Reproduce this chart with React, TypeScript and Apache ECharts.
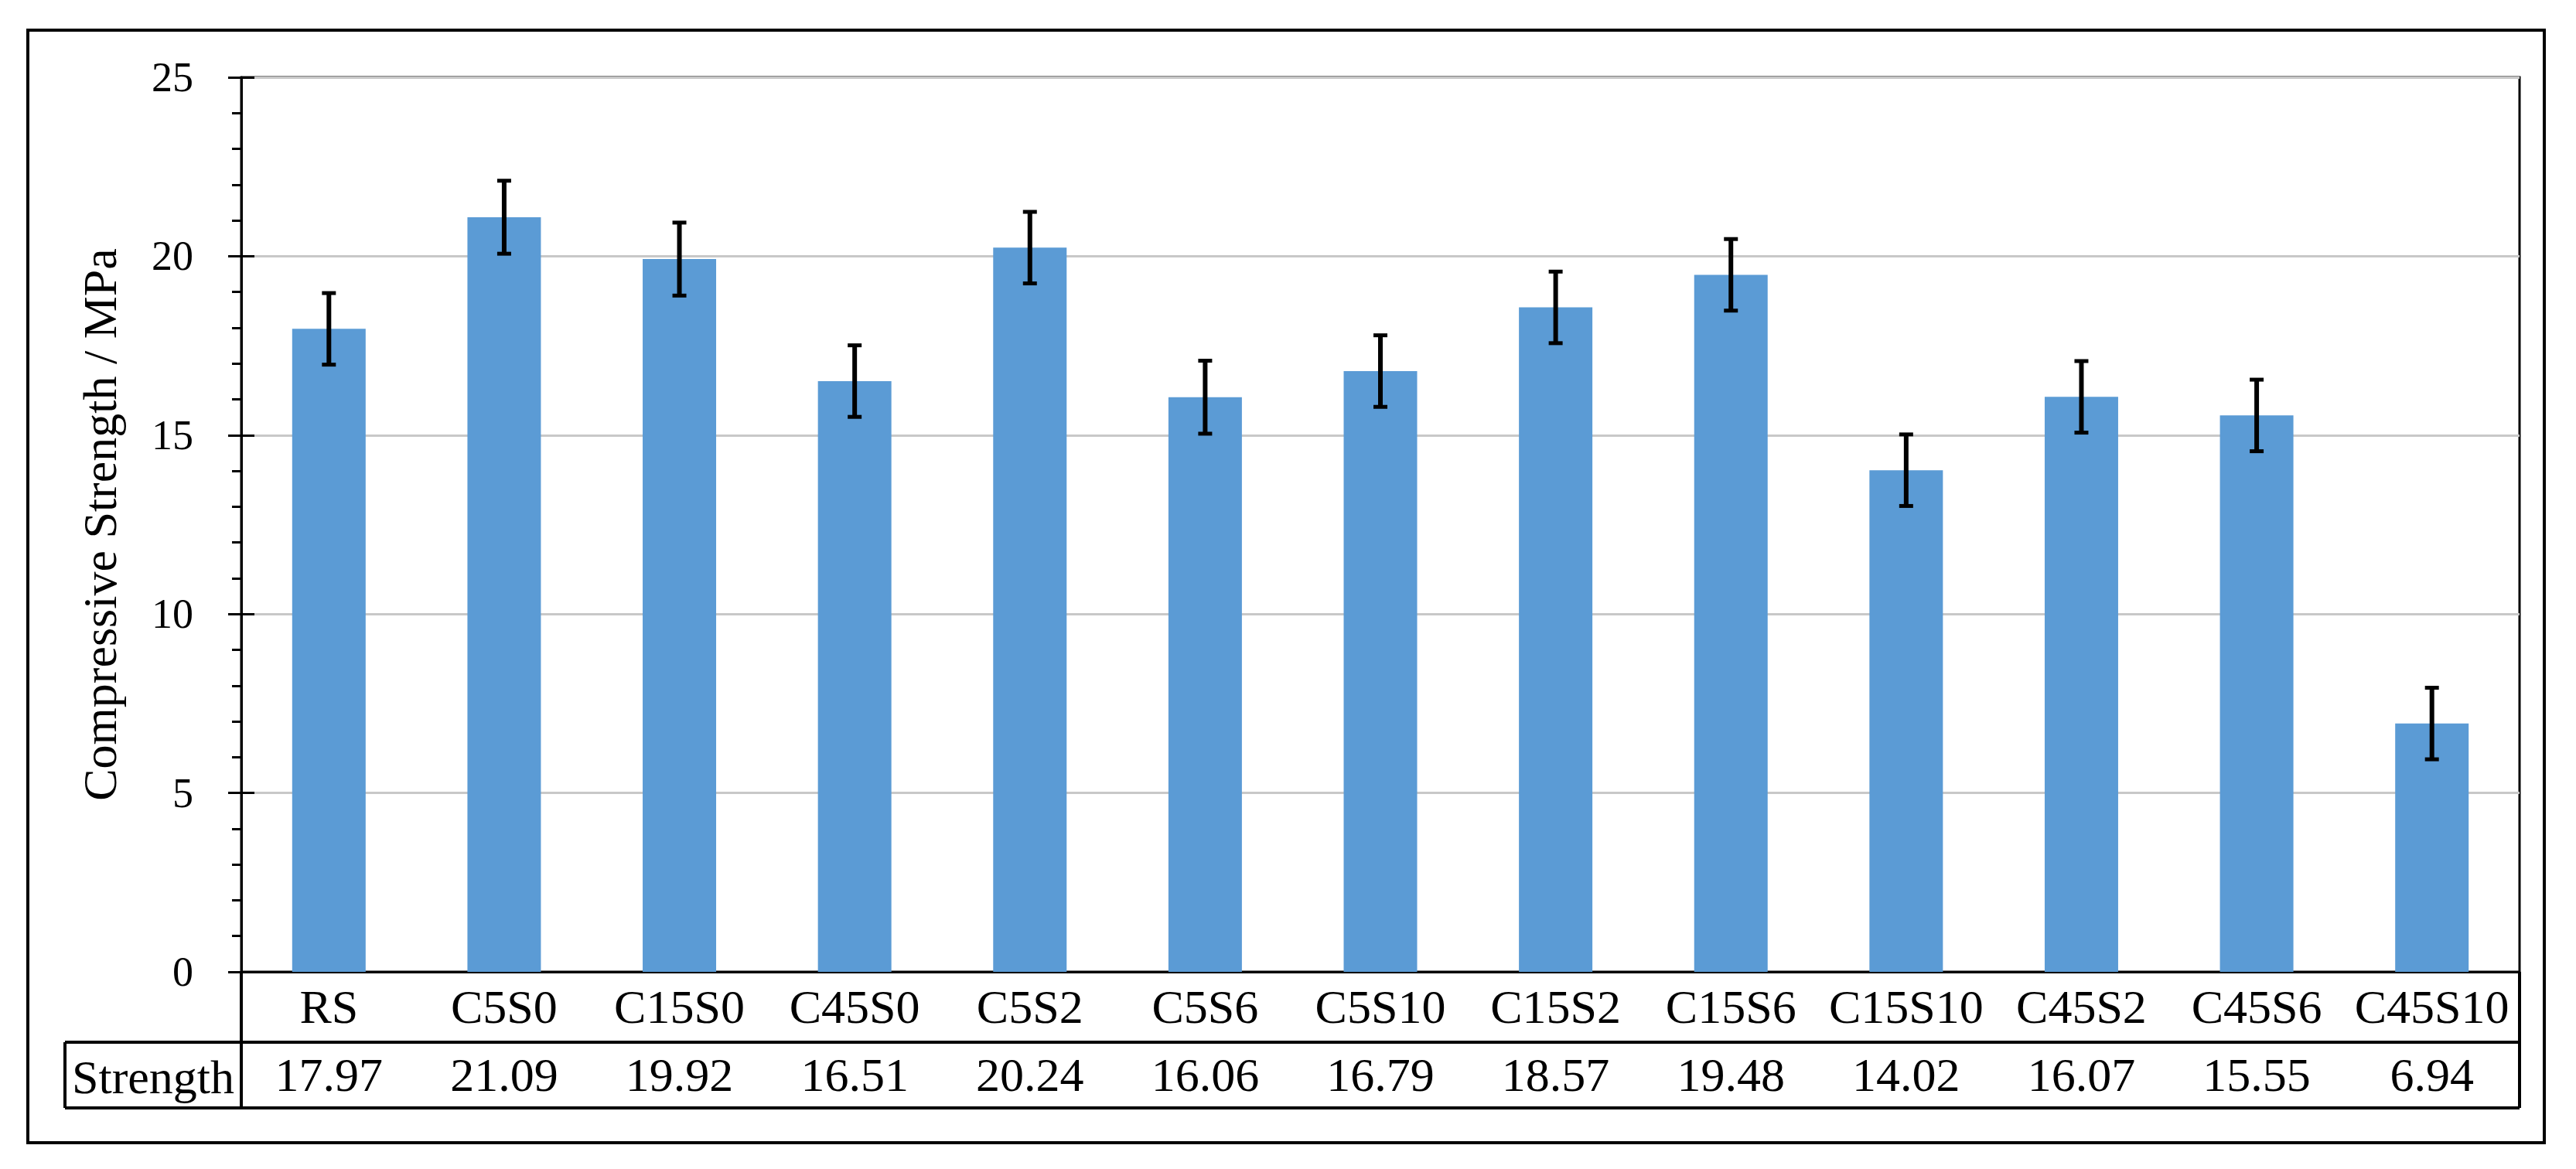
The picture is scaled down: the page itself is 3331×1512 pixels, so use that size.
import React, { useEffect, useRef } from "react";
import * as echarts from "echarts";

const categories = ["RS", "C5S0", "C15S0", "C45S0", "C5S2", "C5S6", "C5S10", "C15S2", "C15S6", "C15S10", "C45S2", "C45S6", "C45S10"];
const strength = [17.97, 21.09, 19.92, 16.51, 20.24, 16.06, 16.79, 18.57, 19.48, 14.02, 16.07, 15.55, 6.94];
const errors = [1.0, 1.02, 1.02, 1.0, 1.0, 1.02, 1.0, 1.0, 1.0, 1.0, 1.0, 1.0, 1.0];
const yMin = 0;
const yMax = 25;
const yStep = 5;
const tableHeader = "Strength";
const yTitle = "Compressive Strength / MPa";

const FONT = "Liberation Serif";

export default function App() {
  const ref = useRef<HTMLDivElement>(null);
  useEffect(() => {
    if (!ref.current) return;
    const chart = echarts.init(ref.current, null, { renderer: "svg" });
    const gridLeft = 312;
    const gridTop = 100;
    const gridW = 2946;
    const gridH = 1157;
    const gridRight = gridLeft + gridW;
    const gridBottom = gridTop + gridH;
    const tableTop = 1348;
    const tableBottom = 1433;
    const tableLeft = 84;
    const lineStyle = { stroke: "#000", lineWidth: 4 };

    const errData = strength.map((v, i) => [i, v - errors[i], v + errors[i]]);

    chart.setOption({
      animation: false,
      backgroundColor: "#fff",
      textStyle: { fontFamily: FONT },
      grid: {
        left: gridLeft,
        top: gridTop,
        width: gridW,
        height: gridH,
        show: true,
        borderColor: "#000",
        borderWidth: 3,
        backgroundColor: "transparent",
      },
      xAxis: [
        {
          type: "category",
          data: categories,
          position: "bottom",
          axisLine: { show: true, lineStyle: { color: "#000", width: 3 } },
          axisTick: { show: false },
          axisLabel: {
            color: "#000",
            fontFamily: FONT,
            fontSize: 62,
            lineHeight: 62,
            margin: 14,
            interval: 0,
          },
          splitLine: { show: false },
        },
        {
          type: "category",
          data: categories,
          position: "bottom",
          offset: 88,
          axisLine: { show: false },
          axisTick: { show: false },
          axisLabel: {
            color: "#000",
            fontFamily: FONT,
            fontSize: 62,
            lineHeight: 62,
            margin: 14,
            interval: 0,
            formatter: (_v: string, idx: number) => strength[idx].toFixed(2),
          },
          splitLine: { show: false },
        },
      ],
      yAxis: [
        {
          type: "value",
          min: yMin,
          max: yMax,
          interval: yStep,
          name: yTitle,
          nameLocation: "middle",
          nameRotate: 90,
          nameGap: 152,
          nameTextStyle: { color: "#000", fontFamily: FONT, fontSize: 62 },
          axisLine: { show: true, lineStyle: { color: "#000", width: 3 } },
          axisTick: { show: true, length: 17, lineStyle: { color: "#000", width: 3 } },
          minorTick: { show: true, splitNumber: 5, length: 12, lineStyle: { color: "#000", width: 3 } },
          axisLabel: { color: "#000", fontFamily: FONT, fontSize: 54, margin: 62 },
          splitLine: { show: true, lineStyle: { color: "#c8c8c8", width: 3 } },
        },
        {
          type: "value",
          min: yMin,
          max: yMax,
          interval: yStep,
          position: "left",
          axisLine: { show: false },
          axisTick: { show: true, inside: true, length: 17, lineStyle: { color: "#000", width: 3 } },
          axisLabel: { show: false },
          splitLine: { show: false },
        },
      ],
      series: [
        {
          type: "bar",
          data: strength,
          barWidth: 95,
          itemStyle: { color: "#5B9BD5" },
          z: 2,
        },
        {
          type: "custom",
          data: errData,
          z: 5,
          renderItem: (params: any, api: any) => {
            const idx = api.value(0);
            const lo = api.coord([idx, api.value(1)]);
            const hi = api.coord([idx, api.value(2)]);
            const x = lo[0];
            const hw = 9;
            const st = { stroke: "#000", lineWidth: 6 };
            const cap = { stroke: "#000", lineWidth: 5 };
            return {
              type: "group",
              children: [
                { type: "line", shape: { x1: x, y1: hi[1], x2: x, y2: lo[1] }, style: st },
                { type: "line", shape: { x1: x - hw, y1: hi[1], x2: x + hw, y2: hi[1] }, style: cap },
                { type: "line", shape: { x1: x - hw, y1: lo[1], x2: x + hw, y2: lo[1] }, style: cap },
              ],
            };
          },
        },
      ],
      graphic: [
        { type: "rect", shape: { x: 36, y: 39, width: 3254, height: 1439 }, style: { fill: "none", stroke: "#000", lineWidth: 4 }, silent: true },
        { type: "line", shape: { x1: tableLeft, y1: tableTop, x2: gridRight, y2: tableTop }, style: lineStyle },
        { type: "line", shape: { x1: tableLeft, y1: tableBottom, x2: gridRight, y2: tableBottom }, style: lineStyle },
        { type: "line", shape: { x1: tableLeft, y1: tableTop, x2: tableLeft, y2: tableBottom }, style: lineStyle },
        { type: "line", shape: { x1: gridLeft, y1: gridBottom, x2: gridLeft, y2: tableBottom }, style: lineStyle },
        { type: "line", shape: { x1: gridRight, y1: gridBottom, x2: gridRight, y2: tableBottom }, style: lineStyle },
        {
          type: "text",
          x: (tableLeft + gridLeft) / 2,
          y: (tableTop + tableBottom) / 2 + 2,
          style: {
            text: tableHeader,
            fill: "#000",
            fontFamily: FONT,
            fontSize: 62,
            textAlign: "center",
            textVerticalAlign: "middle",
          },
        },
      ],
    });
    return () => chart.dispose();
  }, []);
  return (
    <div
      ref={ref}
      style={{ position: "fixed", left: 0, top: 0, width: "3331px", height: "1512px", background: "#fff" }}
    />
  );
}
